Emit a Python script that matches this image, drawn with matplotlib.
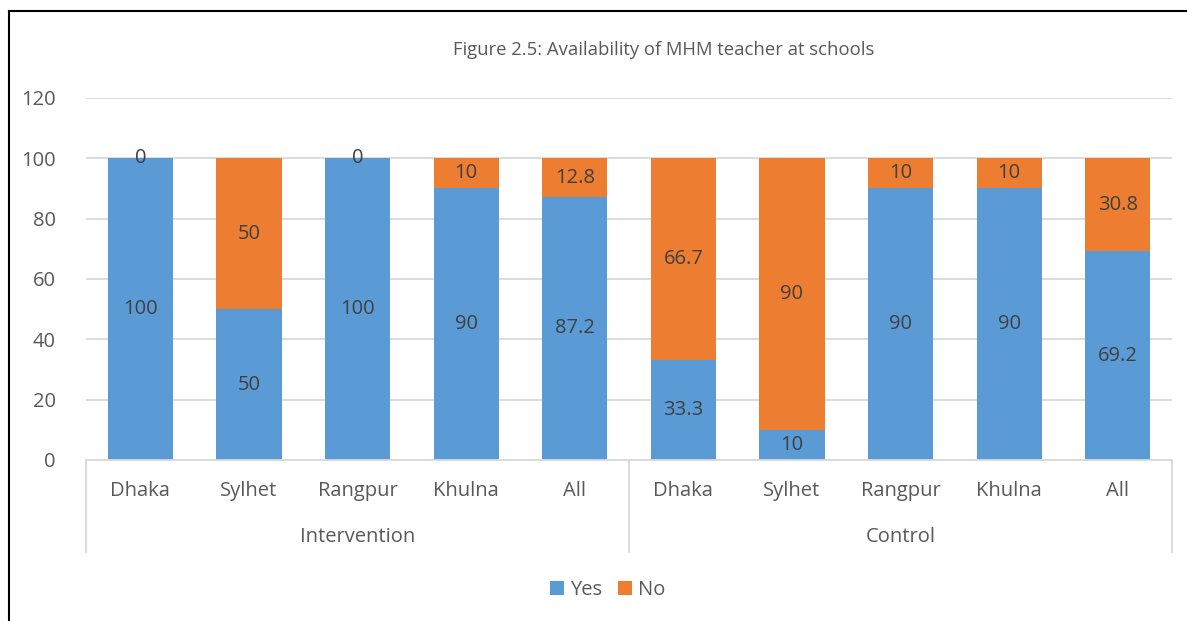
import matplotlib.pyplot as plt
from matplotlib.lines import Line2D
import numpy as np

# Data
regions = ['Dhaka', 'Sylhet', 'Rangpur', 'Khulna', 'All',
           'Dhaka', 'Sylhet', 'Rangpur', 'Khulna', 'All']
groups = ['Intervention', 'Control']
yes_vals = [100, 50, 100, 90, 87.2, 33.3, 10, 90, 90, 69.2]
no_vals = [0, 50, 0, 10, 12.8, 66.7, 90, 10, 10, 30.8]
yes_labels = ['100', '50', '100', '90', '87.2', '33.3', '10', '90', '90', '69.2']
no_labels = ['0', '50', '0', '10', '12.8', '66.7', '90', '10', '10', '30.8']

BLUE = '#5B9BD5'
ORANGE = '#ED7D31'
GRID = '#D9D9D9'
TXT = '#595959'
LBL = '#404040'
FS = 14.5

plt.rcParams['font.family'] = ['Open Sans', 'DejaVu Sans']

fig = plt.figure(figsize=(11.87, 6.21), dpi=100)
ax = fig.add_axes([0.0725, 0.2593, 0.9149, 0.5829])

x = np.arange(len(regions))
ax.bar(x, yes_vals, width=0.6, color=BLUE, label='Yes', zorder=2)
ax.bar(x, no_vals, width=0.6, bottom=yes_vals, color=ORANGE, label='No', zorder=2)

# data labels centred in each segment
for i in range(len(regions)):
    ax.text(x[i], yes_vals[i] / 2, yes_labels[i], ha='center', va='center',
            fontsize=FS, color=LBL, zorder=3)
    ax.text(x[i], yes_vals[i] + no_vals[i] / 2, no_labels[i], ha='center',
            va='center', fontsize=FS, color=LBL, zorder=3)

ax.set_xlim(-0.5, len(regions) - 0.5)
ax.set_ylim(0, 120)
ax.set_yticks(range(0, 121, 20))
ax.yaxis.grid(True, color=GRID, linewidth=1.3, zorder=0)
ax.set_axisbelow(True)
for s in ['top', 'right', 'left']:
    ax.spines[s].set_visible(False)
ax.spines['bottom'].set_color(GRID)
ax.spines['bottom'].set_linewidth(1.3)
ax.tick_params(axis='y', length=0, labelsize=FS, labelcolor=TXT, pad=22)
ax.tick_params(axis='x', length=0, labelsize=FS, labelcolor=TXT, pad=15)
ax.set_xticks(x)
ax.set_xticklabels(regions)

# group labels and separators below the axis
trans = ax.get_xaxis_transform()
for g, name in enumerate(groups):
    ax.text(g * 5 + 2, -0.213, name, transform=trans, ha='center', va='center',
            fontsize=FS, color=TXT)
for xs in [-0.5, 4.5, 9.5]:
    ax.plot([xs, xs], [0, -0.254], transform=trans, color=GRID,
            linewidth=1.3, clip_on=False)

fig.text(0.5595, 0.919, 'Figure 2.5: Availability of MHM teacher at schools',
         ha='center', va='center', fontsize=13.3, color=TXT)

leg = fig.legend(loc='center', bbox_to_anchor=(0.512, 0.05), ncol=2,
                 frameon=False, fontsize=FS, handlelength=0.7,
                 handleheight=0.7, handletextpad=0.3, columnspacing=0.8)
for t in leg.get_texts():
    t.set_color(TXT)

# outer frame (top and left edges visible in the reference)
fig.add_artist(Line2D([0.0076, 1.0], [0.9823, 0.9823], color='black',
                      linewidth=1.5, transform=fig.transFigure))
fig.add_artist(Line2D([0.0076, 0.0076], [0.0, 0.9823], color='black',
                      linewidth=1.5, transform=fig.transFigure))

fig.savefig('out.png', dpi=100)
